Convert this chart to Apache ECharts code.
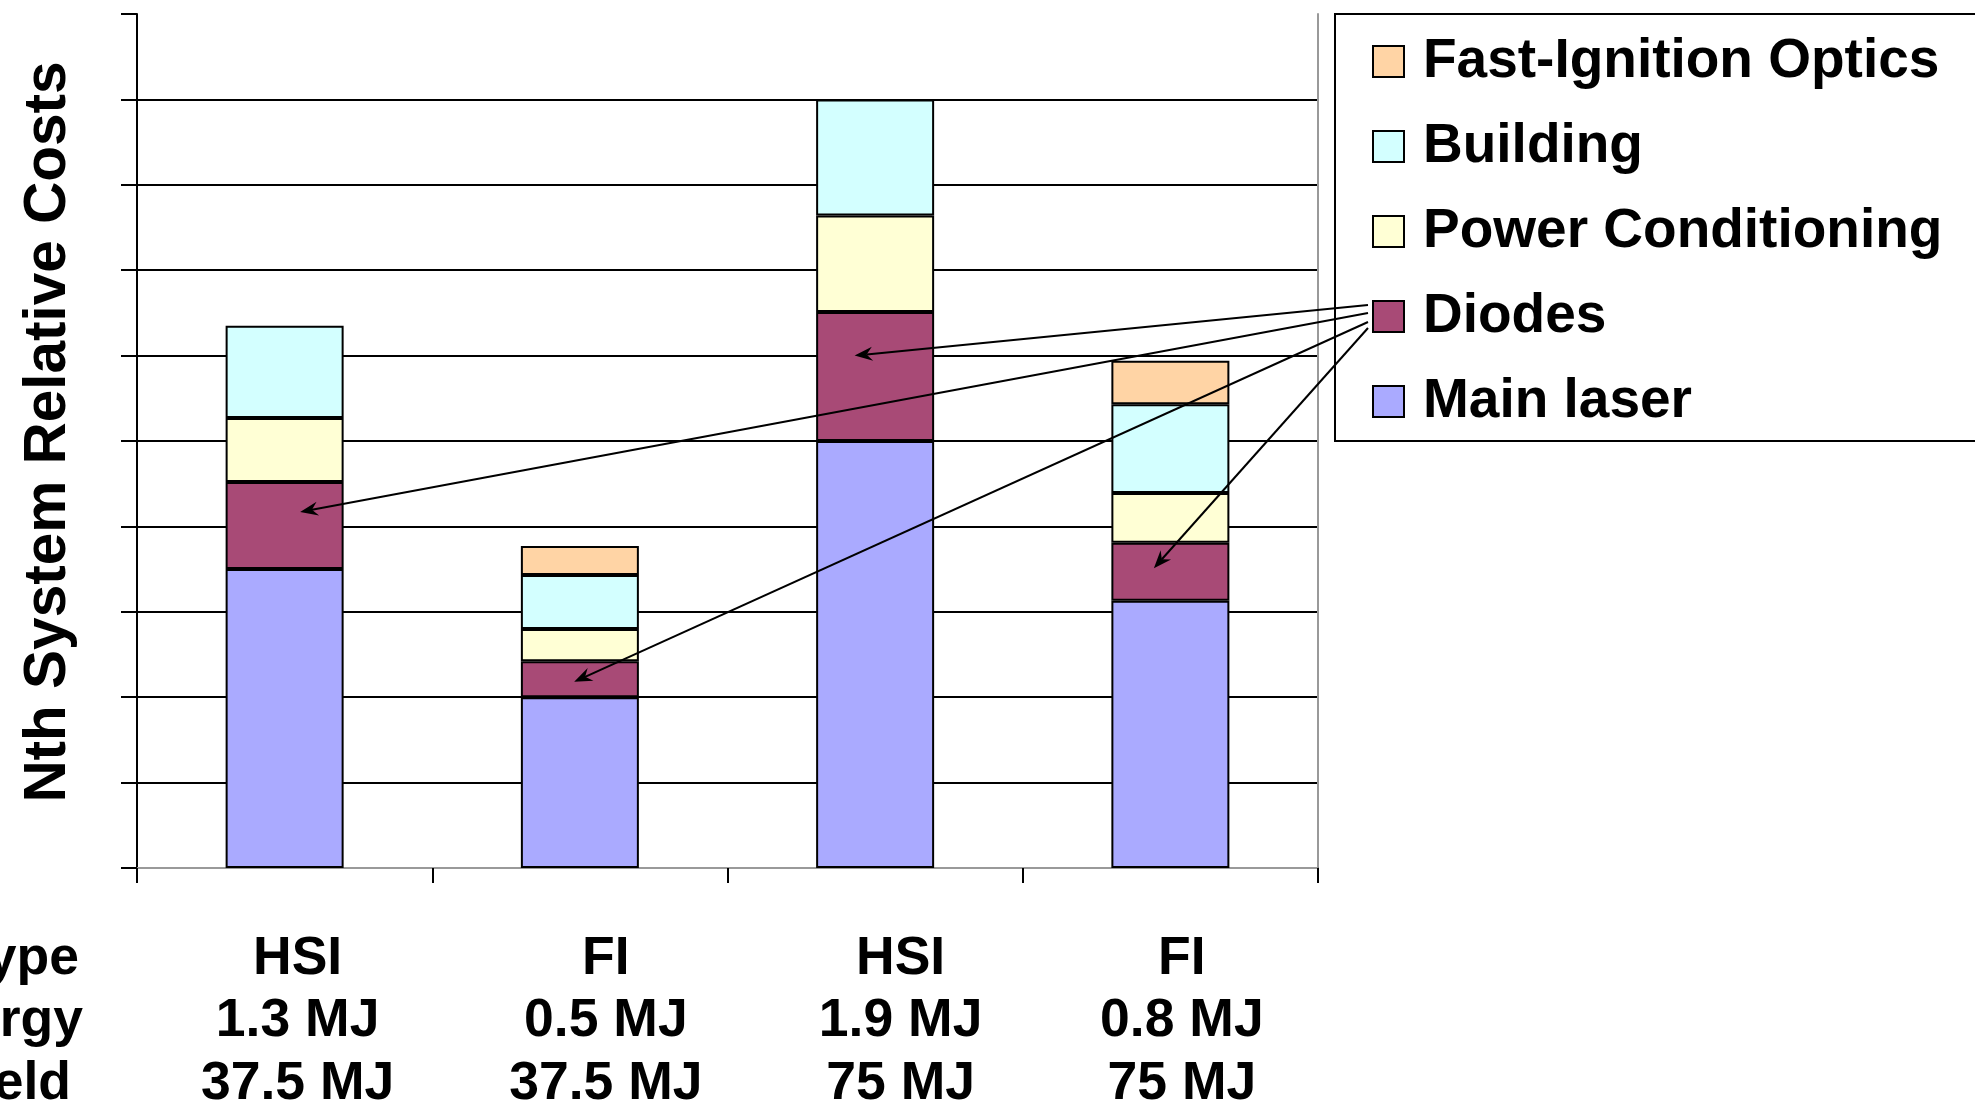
<!DOCTYPE html>
<html><head><meta charset="utf-8">
<script src="https://cdn.jsdelivr.net/npm/echarts@6/dist/echarts.min.js"></script>
<style>html,body{margin:0;padding:0;background:#fff;overflow:hidden}#c{width:1975px;height:1108px}</style>
</head><body><div id="c"></div>
<script>
// ---- data ----
const driverType   = ['HSI', 'FI', 'HSI', 'FI'];
const driverEnergy = ['1.3 MJ', '0.5 MJ', '1.9 MJ', '0.8 MJ'];
const fusionYield  = ['37.5 MJ', '37.5 MJ', '75 MJ', '75 MJ'];
const rowHeaders   = ['Type', 'Energy', 'Yield'];

const mainLaser    = [3.50, 2.00, 5.00, 3.13];
const diodes       = [1.02, 0.42, 1.51, 0.68];
const powerCond    = [0.75, 0.38, 1.13, 0.58];
const building     = [1.08, 0.63, 1.36, 1.04];
const fiOptics     = [null, 0.34, null, 0.51];

const seriesNames  = ['Main laser', 'Diodes', 'Power Conditioning', 'Building', 'Fast-Ignition Optics'];
const seriesColors = ['#AAAAFF', '#A84A76', '#FFFFD5', '#D3FFFF', '#FFD4A5'];
const yTicks = { min: 0, max: 10, interval: 1 };

// arrow annotation: from Diodes legend key to points inside each Diodes segment
const arrowCat   = [2, 0, 1, 3];
const arrowValue = [6.00, 4.17, 2.18, 3.51];

const categories = driverType.map((t, i) => t + '\n' + driverEnergy[i] + '\n' + fusionYield[i]);
const FONT = '"Liberation Sans", Arial, Helvetica, sans-serif';

const chart = echarts.init(document.getElementById('c'), null, { renderer: 'canvas' });
const seriesData = [mainLaser, diodes, powerCond, building, fiOptics];

const option = {
  animation: false,
  backgroundColor: '#fff',
  grid: { left: 137, right: 657, top: 14, bottom: 240, containLabel: false, outerBoundsMode: 'none' },
  legend: {
    data: seriesNames.slice().reverse(),
    orient: 'vertical',
    left: 1335, top: 14,
    padding: [20, 60, 12, 37],
    itemWidth: 31, itemHeight: 31, itemGap: 30,
    borderColor: '#000', borderWidth: 2,
    icon: 'rect',
    selectedMode: false,
    textStyle: { fontFamily: FONT, fontWeight: 'bold', fontSize: 55, color: '#000', lineHeight: 54, padding: [0, 0, 0, 14] }
  },
  xAxis: [{
    type: 'category', data: categories, position: 'bottom',
    axisLine: { lineStyle: { color: '#000', width: 2 } },
    axisTick: { show: true, length: 15, alignWithLabel: false, lineStyle: { color: '#000', width: 2 } },
    axisLabel: { show: false },
    splitLine: { show: false }
  }, {
    type: 'category', data: categories, position: 'top',
    axisLine: { lineStyle: { color: '#999', width: 2 } },
    axisTick: { show: false }, axisLabel: { show: false }, splitLine: { show: false }
  }],
  yAxis: [{
    type: 'value', min: yTicks.min, max: yTicks.max, interval: yTicks.interval,
    axisLine: { show: true, lineStyle: { color: '#000', width: 2 } },
    axisTick: { show: true, length: 16, lineStyle: { color: '#000', width: 2 } },
    axisLabel: { show: false },
    splitLine: { show: true, showMaxLine: false, showMinLine: false, lineStyle: { color: '#000', width: 2 } }
  }, {
    type: 'value', min: yTicks.min, max: yTicks.max, interval: yTicks.interval, position: 'right',
    axisLine: { show: true, lineStyle: { color: '#999', width: 2 } },
    axisTick: { show: false }, axisLabel: { show: false }, splitLine: { show: false }
  }],
  series: seriesNames.map((n, i) => ({
    name: n, type: 'bar', stack: 'cost', barWidth: 118,
    data: seriesData[i],
    itemStyle: { color: seriesColors[i], borderColor: '#000', borderWidth: 2 },
    emphasis: { disabled: true }
  }))
};
chart.setOption(option);

// ---- graphics: axis title, category table, row headers, arrows ----
const g = [];
g.push({
  type: 'text', id: 'ytitle', x: 49, y: 432, rotation: Math.PI / 2,
  style: { text: 'Nth System Relative Costs', font: 'bold 58.5px ' + FONT, fill: '#000', align: 'center', verticalAlign: 'middle' }
});
const lineMid = [959, 1021.5, 1084.5];
const rowRight = [79, 83, 71];
rowHeaders.forEach((t, i) => g.push({
  type: 'text', id: 'row' + i, x: rowRight[i], y: lineMid[i],
  style: { text: t, font: 'bold 53.5px ' + FONT, fill: '#000', align: 'right', verticalAlign: 'middle' }
}));
const labelShift = [13, 26, 25.5, 11.5];
categories.forEach((c, i) => {
  const px = chart.convertToPixel({ gridIndex: 0 }, [i, 0])[0] + labelShift[i];
  c.split('\n').forEach((t, j) => g.push({
    type: 'text', id: 'lab' + i + '_' + j, x: px, y: lineMid[j],
    style: { text: t, font: 'bold 53.5px ' + FONT, fill: '#000', align: 'center', verticalAlign: 'middle' }
  }));
});

const arrowDx = [-20.5, 15.5, -5.7, -16.5];
const startY = [305, 313, 322, 328];
arrowCat.forEach((c, i) => {
  const p = chart.convertToPixel({ gridIndex: 0 }, [c, arrowValue[i]]);
  const ex = p[0] + arrowDx[i], ey = p[1];
  const sx = 1368, sy = startY[i];
  const ang = Math.atan2(ey - sy, ex - sx);
  const L = 18, W = 7, N = 12;
  const ux = Math.cos(ang), uy = Math.sin(ang);
  const px = -uy, py = ux;
  const bx = ex - ux * L, by = ey - uy * L;
  const nx = ex - ux * N, ny = ey - uy * N;
  g.push({ type: 'line', id: 'al' + i, z: 50, shape: { x1: sx, y1: sy, x2: nx, y2: ny }, style: { stroke: '#000', lineWidth: 2 } });
  g.push({ type: 'polygon', id: 'ah' + i, z: 50, shape: { points: [[ex, ey], [bx + px * W, by + py * W], [nx, ny], [bx - px * W, by - py * W]] }, style: { fill: '#000' } });
});
chart.setOption({ graphic: g });
</script>
</body></html>
